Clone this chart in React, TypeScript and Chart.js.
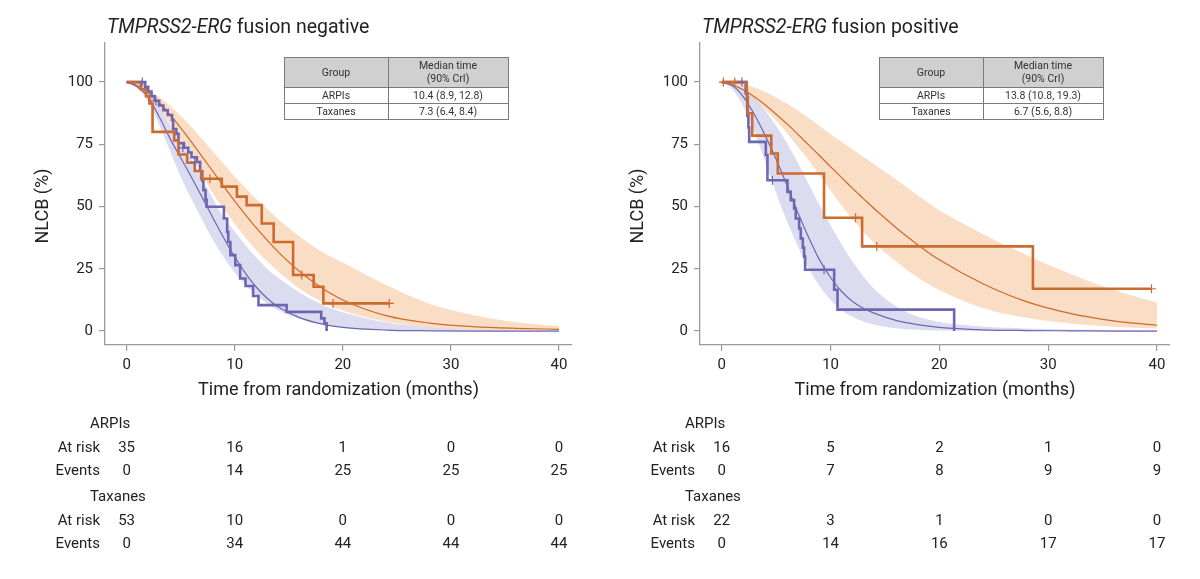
import React, { useEffect, useRef } from 'react';
import { Chart, registerables } from 'chart.js';

Chart.register(...registerables);

// Time grid (months) for the fitted survival curves and credible bands
const MONTHS = [0, 1, 2, 3, 4, 5, 6, 7, 8, 9, 10, 11, 12, 13, 14, 16, 18, 20, 24, 28, 32, 36, 40];
const X_TICKS = [0, 10, 20, 30, 40];
const Y_TICKS = [0, 25, 50, 75, 100];
const RISK_TIMES = [0, 10, 20, 30, 40];
const GROUPS = ['ARPIs', 'Taxanes'];
const GENE = 'TMPRSS2-ERG';

// ---- Fusion negative ----
const negFitArpi = [100, 98.6, 95.7, 91.8, 87.0, 81.6, 75.9, 70.0, 64.0, 58.0, 52.2, 46.7, 41.4, 36.5, 31.9, 23.9, 17.5, 12.5, 6.2, 3.2, 1.8, 1.1, 0.7];
const negHiArpi = [100, 99, 97, 94, 90.5, 86.5, 82, 77, 72, 67, 62, 57.5, 53, 49, 45, 38, 32, 27.5, 18.5, 11, 6.5, 3.5, 2];
const negLoArpi = [100, 98, 94.5, 89.5, 83.5, 77, 70, 62.5, 55, 49, 43, 37.5, 32.5, 28, 24, 17, 12, 8.3, 3.8, 1.6, 0.7, 0.3, 0.1];
const negFitTax = [100, 98, 94, 86.2, 77.5, 69.6, 61.8, 53.6, 45.3, 37.3, 29.8, 23.2, 17.6, 13.2, 9.8, 5.4, 2.9, 1.5, 0.4, 0.1, 0, 0, 0];
const negHiTax = [100, 98.5, 95.5, 90, 83, 76, 69, 61, 53, 45.5, 40, 34.5, 29.5, 25, 21.5, 15.5, 10.8, 7.6, 3.5, 1.6, 0.7, 0.3, 0.1];
const negLoTax = [100, 97.5, 92, 83, 72.5, 62, 53, 44.5, 36.5, 29.5, 23.5, 18.5, 14.5, 11, 8.5, 4.8, 2.6, 1.4, 0.4, 0.1, 0, 0, 0];

const negKmArpiT = [0, 1.3, 1.8, 2.1, 2.4, 4.4, 4.8, 5.6, 6.3, 6.9, 8.8, 10.2, 11.1, 12.5, 13.6, 15.4, 17.3, 18.2, 24.3];
const negKmArpiS = [100, 97.1, 94.3, 91.4, 80.0, 76.6, 70.9, 67.6, 64.3, 61.2, 58.0, 54.0, 50.6, 43.2, 35.8, 22.5, 17.8, 11.1, 11.1];
const negCensArpiT = [7.7, 16.2, 19.1, 24.3];
const negCensArpiS = [61.2, 22.5, 11.1, 11.1];

const negKmTaxT = [0, 1.7, 2.0, 2.3, 2.6, 3.0, 3.4, 3.8, 4.2, 4.3, 4.6, 4.8, 5.3, 5.7, 6.0, 6.5, 6.8, 7.0, 7.1, 7.3, 7.4, 9.0, 9.3, 9.4, 9.6, 10.05, 10.5, 11.0, 11.7, 12.2, 14.8, 18.0, 18.3, 18.5];
const negKmTaxS = [100, 98.1, 96.2, 94.3, 92.5, 90.6, 88.7, 86.8, 84.9, 81.1, 79.2, 75.5, 73.6, 71.7, 69.8, 67.9, 64.2, 60.4, 56.6, 52.8, 49.9, 45.2, 39.8, 35.8, 30.5, 26.5, 21.1, 18.1, 14.1, 10.4, 7.7, 5.1, 3.1, 0];
const negCensTaxT = [1.45, 2.7, 5.2, 6.3];
const negCensTaxS = [100, 92.5, 73.6, 67.9];

const negRiskArpi = [35, 16, 1, 0, 0];
const negEventsArpi = [0, 14, 25, 25, 25];
const negRiskTax = [53, 10, 0, 0, 0];
const negEventsTax = [0, 34, 44, 44, 44];
const negMedians = ['10.4 (8.9, 12.8)', '7.3 (6.4, 8.4)'];

// ---- Fusion positive ----
const posFitArpi = [100, 98.9, 96.8, 94.1, 90.8, 87.1, 83.2, 79.0, 74.7, 70.4, 66.0, 61.7, 57.4, 53.3, 49.2, 41.6, 34.7, 28.6, 19.0, 11.8, 7.1, 4.1, 2.3];
const posHiArpi = [100, 99.7, 99, 97.8, 96, 93.8, 91.3, 88.6, 85.6, 82.4, 79, 76, 73, 70, 67, 61, 54.5, 48.5, 39, 30.5, 23, 16.5, 11.5];
const posLoArpi = [100, 99, 96.5, 93, 89, 84.5, 79.5, 74, 68.5, 62.5, 56.5, 50.5, 45, 40, 35.5, 28, 21.5, 16.5, 9.3, 5.3, 3, 1.7, 1.0];
const posFitTax = [100, 98.5, 94, 87, 78.5, 69, 58.5, 47.5, 37.5, 28.5, 21.5, 16, 12, 9.2, 7.2, 4.3, 2.6, 1.5, 0.5, 0.2, 0.1, 0, 0];
const posHiTax = [100, 99, 97, 93.5, 88.5, 82.5, 75.5, 67.5, 59, 50.5, 42.5, 35, 28, 22, 17, 10, 5.8, 3.6, 1.8, 1.0, 0.6, 0.4, 0.3];
const posLoTax = [100, 97, 90, 80, 68, 55.5, 44, 34, 25, 18, 12.5, 8.5, 5.7, 3.8, 2.5, 1.1, 0.5, 0.2, 0, 0, 0, 0, 0];

const posKmArpiT = [0, 2.3, 2.4, 2.8, 4.55, 5.15, 9.4, 12.9, 28.6, 39.5];
const posKmArpiS = [100, 93.75, 87.5, 78.5, 71.3, 63.3, 45.5, 34.0, 17.0, 17.0];
const posCensArpiT = [0.15, 1.2, 12.3, 14.25, 39.5];
const posCensArpiS = [100, 100, 45.5, 34.0, 17.0];

const posKmTaxT = [0, 2.2, 2.35, 2.45, 2.52, 4.05, 4.2, 6.04, 6.34, 6.65, 6.8, 7.11, 7.26, 7.45, 7.57, 7.66, 10.33, 10.64, 21.36];
const posKmTaxS = [100, 95.5, 86.4, 81.8, 76.0, 70.7, 60.6, 55.9, 52.6, 49.2, 45.2, 41.2, 37.2, 33.5, 29.9, 24.6, 16.6, 8.6, 0];
const posCensTaxT = [1.85, 4.66, 9.4];
const posCensTaxS = [100, 60.6, 24.6];

const posRiskArpi = [16, 5, 2, 1, 0];
const posEventsArpi = [0, 7, 8, 9, 9];
const posRiskTax = [22, 3, 1, 0, 0];
const posEventsTax = [0, 14, 16, 17, 17];
const posMedians = ['13.8 (10.8, 19.3)', '6.7 (5.6, 8.8)'];

const FONT = 'Roboto, "Noto Sans", sans-serif';
const ORANGE = '#cd6a2e';
const PURPLE = '#6f66b0';
const PEACH = 'rgba(240,160,95,0.36)';
const LAVENDER = 'rgba(150,150,210,0.33)';
const AXIS = '#9a9a9a';
const TEXT = '#222';

const pts = (xs: number[], ys: number[]) => xs.map((x, i) => ({ x, y: ys[i] }));

type Panel = {
  status: string;
  fitArpi: number[]; hiArpi: number[]; loArpi: number[];
  fitTax: number[]; hiTax: number[]; loTax: number[];
  kmArpiT: number[]; kmArpiS: number[]; censArpiT: number[]; censArpiS: number[];
  kmTaxT: number[]; kmTaxS: number[]; censTaxT: number[]; censTaxS: number[];
  riskArpi: number[]; eventsArpi: number[]; riskTax: number[]; eventsTax: number[];
  medians: string[];
  axisWidth: number; padRight: number;
};

const PANELS: Panel[] = [
  {
    status: 'negative',
    fitArpi: negFitArpi, hiArpi: negHiArpi, loArpi: negLoArpi,
    fitTax: negFitTax, hiTax: negHiTax, loTax: negLoTax,
    kmArpiT: negKmArpiT, kmArpiS: negKmArpiS, censArpiT: negCensArpiT, censArpiS: negCensArpiS,
    kmTaxT: negKmTaxT, kmTaxS: negKmTaxS, censTaxT: negCensTaxT, censTaxS: negCensTaxS,
    riskArpi: negRiskArpi, eventsArpi: negEventsArpi, riskTax: negRiskTax, eventsTax: negEventsTax,
    medians: negMedians, axisWidth: 105, padRight: 28,
  },
  {
    status: 'positive',
    fitArpi: posFitArpi, hiArpi: posHiArpi, loArpi: posLoArpi,
    fitTax: posFitTax, hiTax: posHiTax, loTax: posLoTax,
    kmArpiT: posKmArpiT, kmArpiS: posKmArpiS, censArpiT: posCensArpiT, censArpiS: posCensArpiS,
    kmTaxT: posKmTaxT, kmTaxS: posKmTaxS, censTaxT: posCensTaxT, censTaxS: posCensTaxS,
    riskArpi: posRiskArpi, eventsArpi: posEventsArpi, riskTax: posRiskTax, eventsTax: posEventsTax,
    medians: posMedians, axisWidth: 100, padRight: 30,
  },
];

// Title, axis titles, median table and numbers-at-risk table
const annotations = (p: Panel) => ({
  id: 'annotations',
  afterDraw(chart: any) {
    const { ctx, chartArea: a, scales } = chart;
    const xs = scales.x;
    ctx.save();
    ctx.fillStyle = TEXT;

    // panel title
    ctx.textAlign = 'left';
    ctx.textBaseline = 'alphabetic';
    ctx.font = `italic 19.5px ${FONT}`;
    ctx.fillText(GENE, a.left + 2, 33);
    const gw = ctx.measureText(GENE).width;
    ctx.font = `19.5px ${FONT}`;
    ctx.fillText(` fusion ${p.status}`, a.left + 2 + gw, 33);

    // axis titles
    ctx.font = `18px ${FONT}`;
    ctx.textAlign = 'center';
    ctx.textBaseline = 'middle';
    ctx.fillText('Time from randomization (months)', (a.left + a.right) / 2, 390);
    ctx.save();
    ctx.translate(a.left - 62, 206);
    ctx.rotate(-Math.PI / 2);
    ctx.fillText('NLCB (%)', 0, 0);
    ctx.restore();

    // median time table
    const tx = a.left + 179;
    const ty = 57;
    const tw = 224;
    const c1 = 104;
    const hh = 30;
    const rh = 16;
    ctx.fillStyle = '#d0d0d0';
    ctx.fillRect(tx, ty, tw, hh);
    ctx.strokeStyle = '#7a7a7a';
    ctx.lineWidth = 1;
    ctx.strokeRect(tx + 0.5, ty + 0.5, tw, hh + 2 * rh);
    ctx.beginPath();
    ctx.moveTo(tx + c1 + 0.5, ty);
    ctx.lineTo(tx + c1 + 0.5, ty + hh + 2 * rh);
    ctx.moveTo(tx, ty + hh + 0.5);
    ctx.lineTo(tx + tw, ty + hh + 0.5);
    ctx.moveTo(tx, ty + hh + rh + 0.5);
    ctx.lineTo(tx + tw, ty + hh + rh + 0.5);
    ctx.stroke();
    ctx.fillStyle = '#333';
    ctx.font = `10.5px ${FONT}`;
    ctx.fillText('Group', tx + c1 / 2, ty + hh / 2 + 1);
    ctx.fillText('Median time', tx + c1 + (tw - c1) / 2, ty + 9);
    ctx.fillText('(90% CrI)', tx + c1 + (tw - c1) / 2, ty + 22);
    GROUPS.forEach((g, i) => {
      const cy = ty + hh + rh * i + rh / 2 + 1;
      ctx.fillText(g, tx + c1 / 2, cy);
      ctx.fillText(p.medians[i], tx + c1 + (tw - c1) / 2, cy);
    });

    // numbers at risk
    ctx.fillStyle = TEXT;
    ctx.font = `15px ${FONT}`;
    const blocks = [
      { name: GROUPS[0], risk: p.riskArpi, events: p.eventsArpi, y: 424 },
      { name: GROUPS[1], risk: p.riskTax, events: p.eventsTax, y: 497 },
    ];
    blocks.forEach((b) => {
      ctx.textAlign = 'left';
      ctx.fillText(b.name, a.left - 15, b.y);
      ctx.textAlign = 'right';
      ctx.fillText('At risk', a.left - 5, b.y + 24);
      ctx.fillText('Events', a.left - 5, b.y + 47);
      ctx.textAlign = 'center';
      RISK_TIMES.forEach((t, i) => {
        const px = xs.getPixelForValue(t);
        ctx.fillText(String(b.risk[i]), px, b.y + 24);
        ctx.fillText(String(b.events[i]), px, b.y + 47);
      });
    });
    ctx.restore();
  },
});

function SurvivalPanel({ p, left }: { p: Panel; left: number }) {
  const ref = useRef<HTMLCanvasElement>(null);
  useEffect(() => {
    const band = (data: number[], color: string | null, fill: any, order: number) => ({
      data: pts(MONTHS, data),
      borderWidth: 0,
      pointRadius: 0,
      backgroundColor: color || 'rgba(0,0,0,0)',
      fill,
      cubicInterpolationMode: 'monotone',
      order,
    });
    const fitLine = (data: number[], color: string) => ({
      data: pts(MONTHS, data),
      borderColor: color,
      borderWidth: 1.2,
      pointRadius: 0,
      fill: false,
      cubicInterpolationMode: 'monotone',
      order: 5,
    });
    const km = (t: number[], s: number[], color: string, order: number) => ({
      data: pts(t, s),
      borderColor: color,
      borderWidth: 2.6,
      pointRadius: 0,
      fill: false,
      stepped: true,
      order,
    });
    const cens = (t: number[], s: number[], color: string) => ({
      data: pts(t, s),
      showLine: false,
      pointStyle: 'cross',
      pointRadius: 4.5,
      pointBorderWidth: 1.2,
      borderColor: color,
      pointBorderColor: color,
      backgroundColor: color,
      order: 1,
    });
    const chart = new Chart(ref.current!, {
      type: 'line',
      data: {
        datasets: [
          band(p.hiTax, LAVENDER, '+1', 10),
          band(p.loTax, null, false, 10),
          band(p.hiArpi, PEACH, '+1', 9),
          band(p.loArpi, null, false, 9),
          fitLine(p.fitTax, PURPLE),
          fitLine(p.fitArpi, ORANGE),
          km(p.kmTaxT, p.kmTaxS, PURPLE, 3),
          km(p.kmArpiT, p.kmArpiS, ORANGE, 2),
          cens(p.censTaxT, p.censTaxS, PURPLE),
          cens(p.censArpiT, p.censArpiS, ORANGE),
        ] as any,
      },
      options: {
        responsive: false,
        animation: false,
        layout: { padding: { top: 43, right: p.padRight, left: 0, bottom: 0 } },
        plugins: { legend: { display: false }, tooltip: { enabled: false } },
        scales: {
          x: {
            type: 'linear',
            min: -2,
            max: 41.2,
            afterBuildTicks: (s: any) => { s.ticks = X_TICKS.map((v) => ({ value: v })); },
            afterFit: (s: any) => { s.height = 234; },
            grid: { drawOnChartArea: false, drawTicks: true, tickLength: 6, color: AXIS, lineWidth: 1.2 },
            border: { display: true, color: AXIS, width: 1.3 },
            ticks: { color: TEXT, font: { family: FONT, size: 15 }, padding: 5, maxRotation: 0 },
          },
          y: {
            type: 'linear',
            min: -5.6,
            max: 115.7,
            afterBuildTicks: (s: any) => { s.ticks = Y_TICKS.map((v) => ({ value: v })); },
            afterFit: (s: any) => { s.width = p.axisWidth; },
            grid: { drawOnChartArea: false, drawTicks: true, tickLength: 6, color: AXIS, lineWidth: 1.2 },
            border: { display: true, color: AXIS, width: 1.3 },
            ticks: { color: TEXT, font: { family: FONT, size: 15 }, padding: 6 },
          },
        },
      } as any,
      plugins: [annotations(p)],
    });
    return () => chart.destroy();
  }, [p]);
  return (
    <canvas
      ref={ref}
      width={600}
      height={579}
      style={{ position: 'absolute', left, top: 0, width: 600, height: 579 }}
    />
  );
}

export default function App() {
  return (
    <div style={{ position: 'absolute', left: 0, top: 0, width: 1200, height: 579, background: '#fff' }}>
      <SurvivalPanel p={PANELS[0]} left={0} />
      <SurvivalPanel p={PANELS[1]} left={600} />
    </div>
  );
}
